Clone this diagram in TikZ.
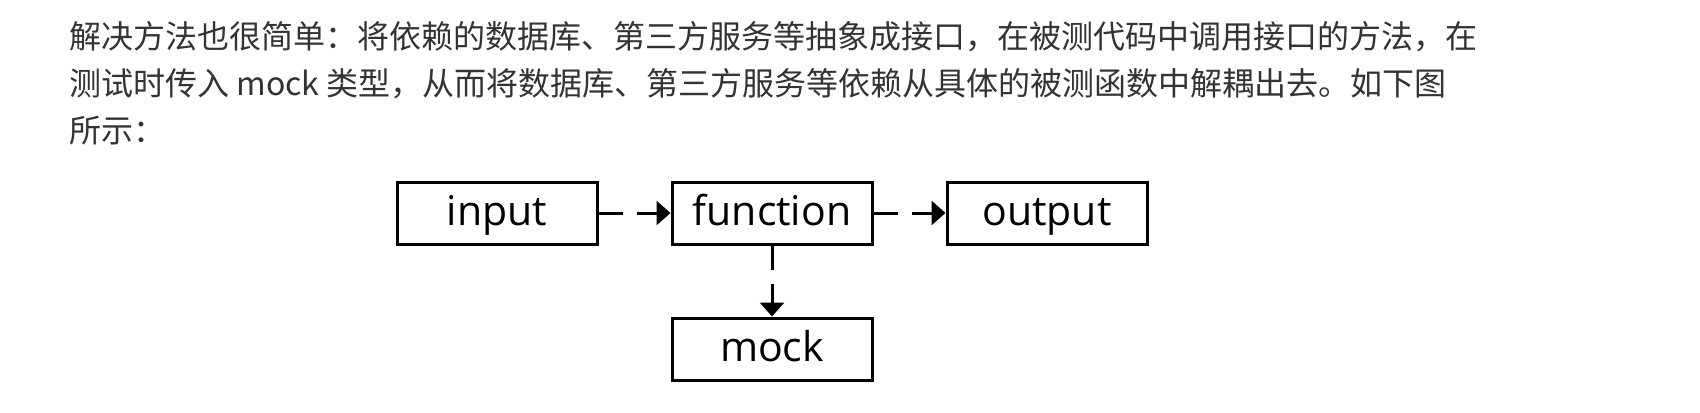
\documentclass[tikz,border=0pt]{standalone}
\usepackage{fontspec}
\usetikzlibrary{positioning,arrows.meta}
\newfontfamily\cjk{Noto Sans CJK SC}
\newfontfamily\boxfont{Open Sans}
\definecolor{bodytext}{RGB}{51,51,51}
\tikzset{
	para/.style={anchor=base west, inner sep=0pt, text=bodytext, font=\cjk\fontsize{16pt}{20pt}\selectfont},
	blk/.style={draw, line width=1.5pt, minimum width=100pt, minimum height=31pt, inner sep=0pt, text height=14pt, text depth=1.4pt, font=\boxfont\fontsize{20.5pt}{24pt}\selectfont},
	flow/.style={line width=1.5pt, dash pattern=on 12pt off 7pt, -{Triangle[length=7pt,width=12pt]}}
}
\begin{document}
\begin{tikzpicture}[x=0.5pt, y=-0.5pt, node distance=36pt]
		\useasboundingbox (0,0) rectangle (1700,412);
		% Draw text
		\node [para] (l1) at (69,48) {解决方法也很简单：将依赖的数据库、第三方服务等抽象成接口，在被测代码中调用接口的方法，在};
		\node [para] (l2) at (69,95) {测试时传入 mock 类型，从而将数据库、第三方服务等依赖从具体的被测函数中解耦出去。如下图};
		\node [para] (l3) at (69,142) {所示：};
		% Draw boxes
		\node [blk] (fn) at (772,213) {function};
		\node [blk, left=of fn] (inp) {input};
		\node [blk, right=of fn] (out) {output};
		\node [blk, below=35.5pt of fn] (mk) {mock};
		% Draw arrows
		\draw [flow] (inp) -- (fn);
		\draw [flow] (fn) -- (out);
		\draw [flow] (fn) -- (mk);
	\end{tikzpicture}
\end{document}
